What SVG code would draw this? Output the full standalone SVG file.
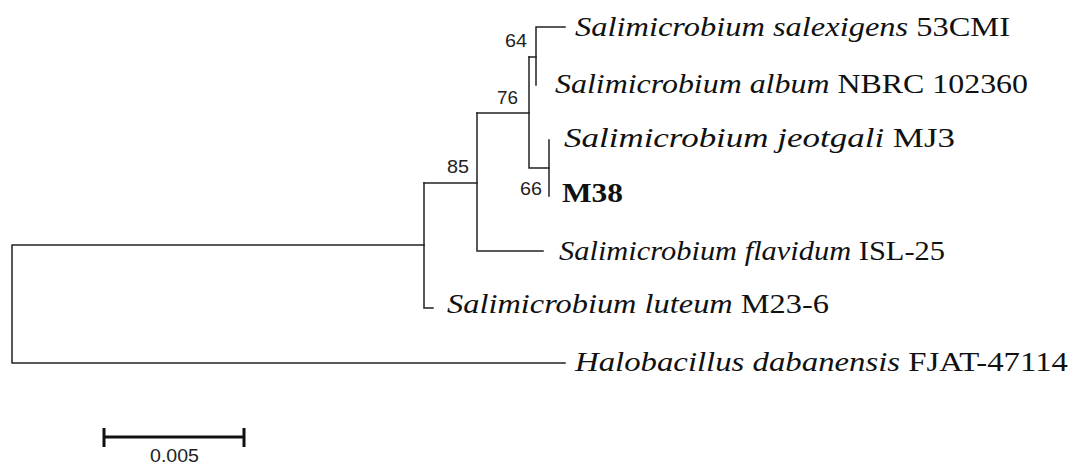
<svg xmlns="http://www.w3.org/2000/svg" width="1073" height="465" viewBox="0 0 1073 465">
  <style>
    .branch { fill: none; stroke: #222; stroke-width: 1.5; stroke-linecap: square; }
    .taxon { font-family: "Liberation Serif", "Times New Roman", serif; font-size: 27px; fill: #111; }
    .taxon .sp { font-style: italic; }
    .strain { font-family: "Liberation Serif", "Times New Roman", serif; font-size: 27px; font-weight: bold; fill: #111; }
    .boot { font-family: "Liberation Sans", Arial, sans-serif; font-size: 19px; fill: #222; }
    .scale { fill: none; stroke: #111; stroke-width: 3; }
  </style>
  <rect width="1073" height="465" fill="#fff"/>

  <!-- tree branches -->
  <g id="connectors">
    <path class="branch" d="M424,245 H12 V363 H565"/>
    <path class="branch" d="M424,183 V308 H433"/>
    <path class="branch" d="M424,183 H477"/>
    <path class="branch" d="M477,113 V251 H543"/>
    <path class="branch" d="M477,113 H529"/>
    <path class="branch" d="M529,57 V168 H549"/>
    <path class="branch" d="M529,57 H536"/>
    <path class="branch" d="M536,85 V27 H565"/>
    <path class="branch" d="M549,140 V196"/>
  </g>

  <!-- internal nodes with bootstrap values -->
  <g id="node-64"><text class="boot" x="505" y="47" textLength="22" lengthAdjust="spacingAndGlyphs">64</text></g>
  <g id="node-76"><text class="boot" x="497" y="104" textLength="21" lengthAdjust="spacingAndGlyphs">76</text></g>
  <g id="node-85"><text class="boot" x="447" y="173" textLength="22" lengthAdjust="spacingAndGlyphs">85</text></g>
  <g id="node-66"><text class="boot" x="520" y="195" textLength="22" lengthAdjust="spacingAndGlyphs">66</text></g>

  <!-- leaves -->
  <g id="leaf-salexigens">
    <text class="taxon" x="575" y="36" textLength="435" lengthAdjust="spacingAndGlyphs"><tspan class="sp">Salimicrobium salexigens</tspan> 53CMI</text>
  </g>
  <g id="leaf-album">
    <text class="taxon" x="555" y="93" textLength="473" lengthAdjust="spacingAndGlyphs"><tspan class="sp">Salimicrobium album</tspan> NBRC 102360</text>
  </g>
  <g id="leaf-jeotgali">
    <text class="taxon" x="564" y="147" textLength="391" lengthAdjust="spacingAndGlyphs"><tspan class="sp">Salimicrobium jeotgali</tspan> MJ3</text>
  </g>
  <g id="leaf-M38">
    <text class="strain" x="562" y="202" textLength="61" lengthAdjust="spacingAndGlyphs">M38</text>
  </g>
  <g id="leaf-flavidum">
    <text class="taxon" x="559" y="260" textLength="386" lengthAdjust="spacingAndGlyphs"><tspan class="sp">Salimicrobium flavidum</tspan> ISL-25</text>
  </g>
  <g id="leaf-luteum">
    <text class="taxon" x="447" y="313" textLength="382" lengthAdjust="spacingAndGlyphs"><tspan class="sp">Salimicrobium luteum</tspan> M23-6</text>
  </g>
  <g id="leaf-halobacillus">
    <text class="taxon" x="575" y="371" textLength="493" lengthAdjust="spacingAndGlyphs"><tspan class="sp">Halobacillus dabanensis</tspan> FJAT-47114</text>
  </g>

  <!-- scale bar -->
  <g id="scale-bar">
    <path class="scale" d="M104,437 H244 M104,428 V447 M244,428 V447"/>
    <text class="boot" x="150" y="462" textLength="49" lengthAdjust="spacingAndGlyphs">0.005</text>
  </g>
</svg>
